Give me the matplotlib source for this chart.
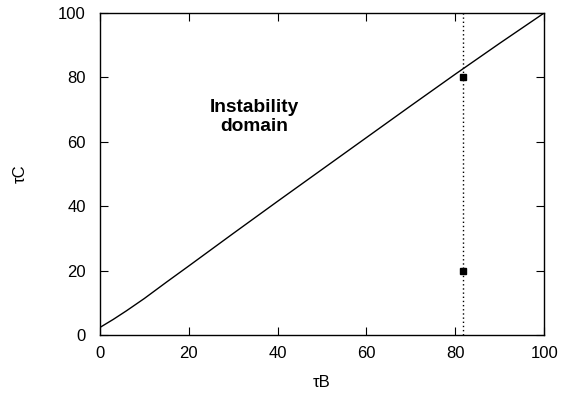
import matplotlib
matplotlib.use("Agg")
import matplotlib.pyplot as plt

plt.rcParams['font.family'] = ['Liberation Sans', 'DejaVu Sans']

# boundary curve
curve_x = [0, 3, 6, 10, 15, 20, 30, 40, 50, 60, 70, 80, 90, 100]
curve_y = [2.3, 4.8, 7.5, 11.3, 16.4, 21.4, 31.5, 41.5, 51.4, 61.3, 71.2, 81.0, 90.6, 100]
# vertical dotted line position
vline_x = 81.7
# points
pts_x = [81.7, 81.7]
pts_y = [80, 20]
ticks = [0, 20, 40, 60, 80, 100]

fig = plt.figure(figsize=(5.61, 3.94), dpi=100)
ax = fig.add_axes([0.178, 0.150, 0.792, 0.817])

ax.plot(curve_x, curve_y, color='black', lw=1.0)
ax.plot([vline_x, vline_x], [0, 100], color='black', lw=1.0, linestyle=(0, (1, 2)))
ax.plot(pts_x, pts_y, 's', color='black', markersize=5)

ax.text(34.7, 67.6, 'Instability\ndomain', ha='center', va='center',
        fontsize=13.8, fontweight='bold', linespacing=1.15)

ax.set_xlim(0, 100)
ax.set_ylim(0, 100)
ax.set_xticks(ticks)
ax.set_yticks(ticks)
ax.tick_params(direction='in', top=True, right=True, length=6, labelsize=12)
ax.tick_params(axis='x', pad=8)
ax.tick_params(axis='y', pad=10)
for s in ax.spines.values():
    s.set_linewidth(1.0)
ax.set_xlabel('τB', fontsize=12, labelpad=10)
ax.set_ylabel('τC', fontsize=12, labelpad=22)

fig.savefig('out.png', dpi=100)
